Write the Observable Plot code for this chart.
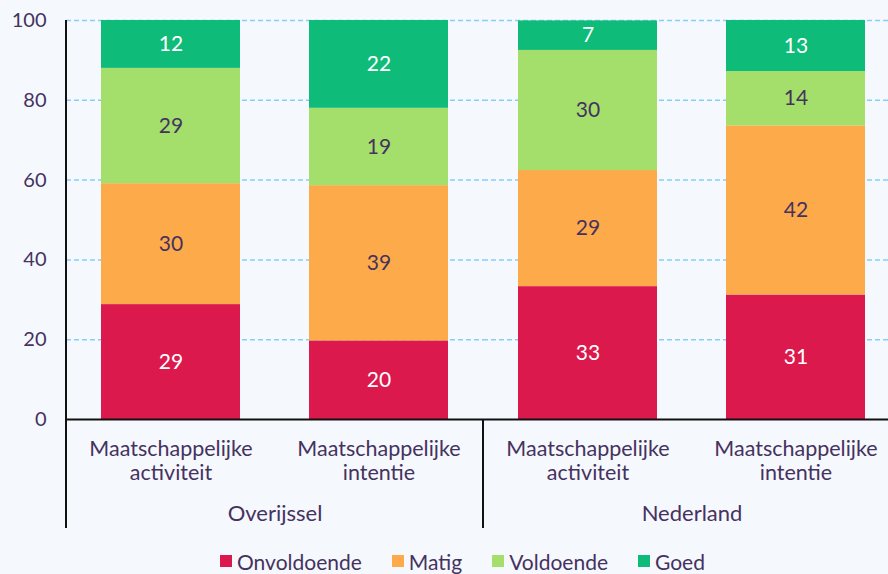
<!DOCTYPE html>
<html>
<head>
<meta charset="utf-8">
<script src="https://cdn.jsdelivr.net/npm/d3@7"></script>
<script src="https://cdn.jsdelivr.net/npm/@observablehq/plot@0.6"></script>
<style>
  html, body { margin: 0; padding: 0; background: #f5f8fd; overflow: hidden; }
  body { width: 888px; height: 574px; font-family: Lato, "Noto Sans", sans-serif; color: #45325f; }
  #legend { display: flex; align-items: center; height: 24px; padding-top: 9px; padding-left: 220px; font-size: 21px; }
  .item { display: flex; align-items: center; margin-right: 30px; }
  .sw { width: 12px; height: 12px; margin-right: 5px; }
</style>
</head>
<body>
<div id="chart"></div>
<div id="legend"></div>
<script>
const groups = ["Overijssel", "Overijssel", "Nederland", "Nederland"];
const metrics = ["activiteit", "intentie", "activiteit", "intentie"];
const groupOrder = ["Overijssel", "Nederland"];
const metricOrder = ["activiteit", "intentie"];
const levels = ["Onvoldoende", "Matig", "Voldoende", "Goed"];
const onvoldoende = [28.8, 19.7, 33.3, 31.2];
const matig = [30.3, 38.9, 29.1, 42.4];
const voldoende = [28.9, 19.4, 30.1, 13.6];
const goed = [12.0, 22.0, 7.4, 12.8];
const colors = ["#dc194c", "#fdaa4a", "#a3df6a", "#0fbb78"];
const labelColors = ["#ffffff", "#45325f", "#45325f", "#ffffff"];
const yTicks = [0, 20, 40, 60, 80, 100];

const series = [onvoldoende, matig, voldoende, goed];
const data = [];
groups.forEach((g, j) => {
  let cum = 0;
  levels.forEach((lvl, i) => {
    const v = series[i][j];
    data.push({group: g, metric: metrics[j], level: lvl, value: v, mid: cum + v / 2, light: labelColors[i] === "#ffffff"});
    cum += v;
  });
});

const textColor = "#45325f";
const plot = Plot.plot({
  width: 888,
  height: 540,
  marginLeft: 66,
  marginRight: -12,
  marginTop: 20,
  marginBottom: 121,
  style: {background: "transparent", fontFamily: "Lato, 'Noto Sans', sans-serif", color: textColor, overflow: "visible"},
  fx: {domain: groupOrder, padding: 0, label: null},
  x: {domain: metricOrder, paddingInner: 1/3, paddingOuter: 1/6, label: null},
  y: {domain: [0, 100], label: null},
  color: {domain: levels, range: colors},
  marks: [
    Plot.ruleY(yTicks.filter(t => t > 0), {stroke: "#86cdf8", strokeWidth: 1.5, strokeDasharray: "5,3"}),
    Plot.barY(data, {fx: "group", x: "metric", y: "value", fill: "level"}),
    Plot.text(data.filter(d => d.light), {fx: "group", x: "metric", y: "mid", text: d => Math.round(d.value), fill: "#ffffff", fontSize: 21}),
    Plot.text(data.filter(d => !d.light), {fx: "group", x: "metric", y: "mid", text: d => Math.round(d.value), fill: textColor, fontSize: 21}),
    Plot.ruleY([0], {stroke: "#111111", strokeWidth: 2}),
    Plot.axisY({ticks: yTicks, tickSize: 0, tickPadding: 20, fontSize: 20, label: null, fill: textColor}),
    Plot.axisX({tickSize: 0, tickPadding: 19, fontSize: 21.5, lineHeight: 1.12, label: null, fill: textColor,
      tickFormat: m => "Maatschappelijke\n" + m}),
    Plot.axisFx({anchor: "bottom", tickSize: 0, tickPadding: 86, fontSize: 22, label: null, fill: textColor})
  ]
});

document.getElementById("chart").appendChild(plot);

// group separators (left axis line and divider between groups)
const fx = plot.scale("fx");
const ys = plot.scale("y");
const svg = d3.select(plot);
const y0 = ys.apply(0), yTop = ys.apply(100), yBottom = y0 + 109;
groupOrder.forEach((g, i) => {
  const x = fx.apply(g);
  svg.append("line")
    .attr("x1", x).attr("x2", x)
    .attr("y1", i === 0 ? yTop : y0).attr("y2", yBottom)
    .attr("stroke", "#111111").attr("stroke-width", 2);
});

// legend
const legend = d3.select("#legend");
levels.forEach((lvl, i) => {
  const it = legend.append("div").attr("class", "item");
  it.append("div").attr("class", "sw").style("background", colors[i]);
  it.append("span").text(lvl);
});
</script>
</body>
</html>
